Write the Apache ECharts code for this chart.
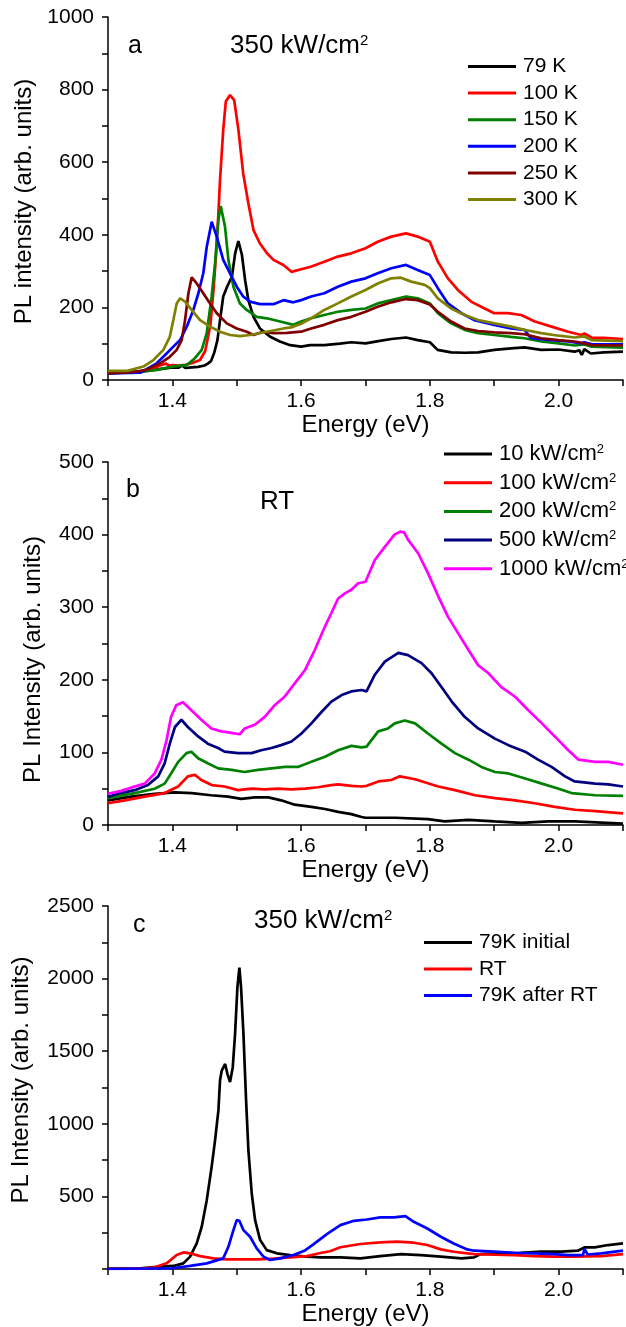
<!DOCTYPE html>
<html>
<head>
<meta charset="utf-8">
<script src="https://cdn.jsdelivr.net/npm/echarts@6/dist/echarts.min.js"></script>
<style>
  html, body { margin: 0; padding: 0; background: #fff; }
  #main { width: 626px; height: 1327px; }
</style>
</head>
<body>
<div id="main"></div>
<script>
// tick labels
const energyLabels = ['1.4', '1.6', '1.8', '2.0'];
const yLabelsA = [0, 200, 400, 600, 800, 1000];
const yLabelsB = [0, 100, 200, 300, 400, 500];
const yLabelsC = [500, 1000, 1500, 2000, 2500];

// panel a: 350 kW/cm2, temperature series  [energy eV, intensity]
const namesA = ['79 K', '100 K', '150 K', '200 K', '250 K', '300 K'];
const a79 = [[1.30, 20], [1.33, 22], [1.36, 25], [1.38, 30], [1.40, 35], [1.41, 34], [1.415, 40], [1.42, 33], [1.43, 35], [1.44, 36], [1.45, 40], [1.455, 45], [1.46, 52], [1.465, 75], [1.47, 110], [1.474, 165], [1.479, 230], [1.485, 257], [1.4925, 285], [1.4975, 349], [1.5025, 383], [1.508, 345], [1.513, 275], [1.518, 220], [1.526, 174], [1.536, 142], [1.552, 119], [1.567, 106], [1.583, 96], [1.60, 92], [1.614, 96], [1.636, 96], [1.66, 100], [1.678, 104], [1.70, 101], [1.72, 107], [1.74, 113], [1.763, 117], [1.781, 110], [1.80, 104], [1.812, 83], [1.833, 76], [1.854, 75], [1.875, 76], [1.90, 83], [1.926, 87], [1.947, 90], [1.973, 83], [2.00, 84], [2.025, 78], [2.032, 82], [2.036, 69], [2.04, 85], [2.05, 73], [2.07, 76], [2.10, 78]];
const a100 = [[1.30, 20], [1.33, 22], [1.35, 24], [1.37, 30], [1.38, 40], [1.39, 45], [1.395, 40], [1.40, 41], [1.41, 40], [1.42, 42], [1.43, 46], [1.443, 55], [1.451, 80], [1.459, 150], [1.464, 250], [1.468, 350], [1.4715, 459], [1.474, 551], [1.479, 689], [1.483, 767], [1.4896, 785], [1.496, 771], [1.5026, 689], [1.510, 569], [1.518, 487], [1.526, 413], [1.536, 376], [1.547, 349], [1.557, 331], [1.5725, 317], [1.585, 298], [1.60, 305], [1.615, 312], [1.636, 326], [1.657, 340], [1.678, 349], [1.70, 363], [1.719, 381], [1.74, 395], [1.763, 404], [1.781, 395], [1.80, 381], [1.8124, 326], [1.828, 280], [1.8435, 248], [1.864, 216], [1.885, 197], [1.90, 184], [1.921, 184], [1.942, 179], [1.963, 161], [1.989, 147], [2.015, 133], [2.035, 124], [2.04, 128], [2.051, 117], [2.07, 116], [2.10, 113]];
const a150 = [[1.30, 18], [1.35, 22], [1.376, 28], [1.40, 37], [1.4223, 41], [1.435, 60], [1.4456, 83], [1.4534, 129], [1.461, 230], [1.4663, 321], [1.4715, 441], [1.4751, 479], [1.4818, 422], [1.487, 331], [1.4948, 257], [1.505, 211], [1.5155, 193], [1.531, 174], [1.5466, 170], [1.5674, 161], [1.588, 152], [1.60, 161], [1.6155, 170], [1.636, 179], [1.657, 188], [1.678, 193], [1.70, 197], [1.719, 211], [1.74, 220], [1.763, 230], [1.781, 225], [1.80, 211], [1.8124, 184], [1.833, 156], [1.854, 138], [1.875, 129], [1.90, 124], [1.926, 119], [1.947, 115], [1.973, 106], [2.00, 101], [2.025, 95], [2.04, 98], [2.051, 92], [2.10, 89]];
const a200 = [[1.30, 18], [1.35, 20], [1.3756, 46], [1.391, 73], [1.4015, 92], [1.412, 110], [1.4223, 147], [1.4326, 193], [1.4404, 239], [1.448, 294], [1.4534, 367], [1.4611, 436], [1.4689, 395], [1.479, 331], [1.4896, 294], [1.50, 257], [1.510, 230], [1.5207, 216], [1.536, 209], [1.557, 209], [1.5725, 220], [1.588, 214], [1.60, 220], [1.6155, 230], [1.636, 239], [1.657, 257], [1.678, 271], [1.70, 280], [1.719, 294], [1.74, 308], [1.763, 317], [1.781, 303], [1.80, 289], [1.8124, 253], [1.828, 211], [1.849, 184], [1.869, 165], [1.90, 152], [1.926, 142], [1.947, 138], [1.957, 115], [1.989, 110], [2.015, 106], [2.035, 101], [2.04, 104], [2.051, 99], [2.10, 98]];
const a250 = [[1.30, 18], [1.34, 22], [1.36, 28], [1.381, 46], [1.396, 64], [1.4067, 83], [1.4145, 110], [1.4197, 165], [1.4249, 239], [1.43, 283], [1.4378, 266], [1.448, 239], [1.4585, 211], [1.469, 184], [1.4845, 156], [1.50, 142], [1.5155, 133], [1.526, 124], [1.541, 133], [1.557, 129], [1.578, 130], [1.60, 133], [1.6155, 142], [1.636, 152], [1.657, 165], [1.678, 174], [1.70, 188], [1.719, 202], [1.74, 214], [1.763, 223], [1.781, 220], [1.80, 208], [1.8124, 188], [1.833, 161], [1.854, 142], [1.875, 135], [1.90, 131], [1.926, 129], [1.947, 126], [1.973, 115], [2.00, 110], [2.025, 106], [2.04, 101], [2.051, 96], [2.10, 95]];
const a300 = [[1.30, 25], [1.33, 25], [1.355, 37], [1.3705, 55], [1.386, 83], [1.396, 119], [1.4015, 165], [1.4067, 211], [1.412, 225], [1.4197, 216], [1.43, 193], [1.443, 165], [1.4585, 147], [1.474, 133], [1.4896, 124], [1.505, 121], [1.5207, 124], [1.5466, 133], [1.5725, 142], [1.5845, 145], [1.60, 155], [1.6155, 170], [1.636, 193], [1.657, 211], [1.678, 230], [1.70, 248], [1.719, 266], [1.74, 280], [1.755, 282], [1.771, 271], [1.792, 262], [1.80, 253], [1.8124, 225], [1.833, 197], [1.854, 179], [1.875, 165], [1.90, 156], [1.926, 147], [1.947, 138], [1.973, 129], [2.00, 122], [2.025, 117], [2.04, 120], [2.051, 110], [2.10, 107]];

// panel b: room temperature, excitation density series
const namesB = ['10 kW/cm²', '100 kW/cm²', '200 kW/cm²', '500 kW/cm²', '1000 kW/cm²'];
const b10 = [[1.30, 34], [1.336, 39], [1.3725, 43], [1.4036, 45], [1.43, 44], [1.46, 41], [1.4865, 39], [1.507, 36], [1.528, 38], [1.549, 38], [1.569, 34], [1.59, 28], [1.616, 25], [1.637, 22], [1.6575, 18], [1.678, 15], [1.694, 11], [1.70, 10], [1.746, 10], [1.797, 8], [1.823, 5], [1.86, 7], [1.90, 5], [1.9425, 3], [1.984, 5], [2.025, 5], [2.10, 2]];
const b100 = [[1.30, 30], [1.326, 34], [1.357, 39], [1.388, 44], [1.409, 53], [1.424, 67], [1.435, 69], [1.445, 62], [1.461, 55], [1.481, 53], [1.502, 48], [1.523, 50], [1.544, 49], [1.564, 50], [1.585, 49], [1.606, 50], [1.626, 52], [1.647, 55], [1.6575, 56], [1.678, 54], [1.694, 53], [1.702, 54], [1.72, 60], [1.74, 62], [1.7534, 67], [1.777, 63], [1.813, 53], [1.839, 48], [1.87, 41], [1.901, 37], [1.932, 34], [1.963, 30], [1.994, 25], [2.025, 21], [2.057, 19], [2.10, 16]];
const b200 = [[1.30, 37], [1.3415, 44], [1.3725, 50], [1.388, 57], [1.398, 71], [1.409, 87], [1.422, 99], [1.4295, 101], [1.44, 92], [1.455, 85], [1.471, 78], [1.492, 76], [1.512, 73], [1.533, 76], [1.554, 78], [1.575, 80], [1.595, 80], [1.616, 87], [1.637, 94], [1.6575, 103], [1.678, 109], [1.694, 107], [1.7016, 108], [1.7197, 129], [1.735, 133], [1.7456, 140], [1.761, 144], [1.777, 140], [1.797, 126], [1.818, 112], [1.839, 99], [1.86, 90], [1.88, 80], [1.901, 73], [1.922, 71], [1.948, 64], [1.974, 57], [2.00, 50], [2.02, 44], [2.057, 41], [2.10, 40]];
const b500 = [[1.30, 39], [1.32, 44], [1.3415, 48], [1.362, 55], [1.378, 67], [1.388, 85], [1.396, 112], [1.404, 135], [1.414, 145], [1.424, 135], [1.44, 122], [1.455, 112], [1.471, 106], [1.481, 101], [1.502, 99], [1.523, 99], [1.538, 103], [1.554, 106], [1.569, 110], [1.585, 115], [1.6005, 126], [1.616, 140], [1.632, 156], [1.647, 170], [1.663, 179], [1.678, 184], [1.694, 186], [1.7016, 184], [1.7145, 207], [1.73, 225], [1.751, 237], [1.766, 234], [1.787, 223], [1.8026, 209], [1.818, 190], [1.834, 170], [1.854, 149], [1.875, 133], [1.901, 119], [1.922, 110], [1.948, 101], [1.968, 90], [1.989, 80], [2.01, 67], [2.025, 60], [2.057, 57], [2.077, 56], [2.10, 53]];
const b1000 = [[1.30, 43], [1.3207, 47], [1.3415, 53], [1.357, 57], [1.3725, 71], [1.383, 90], [1.391, 117], [1.398, 149], [1.406, 165], [1.4166, 169], [1.4295, 158], [1.445, 145], [1.4606, 133], [1.476, 129], [1.4917, 127], [1.5047, 125], [1.5124, 133], [1.528, 138], [1.5435, 149], [1.559, 165], [1.5746, 177], [1.59, 195], [1.6057, 213], [1.6212, 241], [1.6368, 273], [1.647, 292], [1.6575, 312], [1.668, 319], [1.678, 324], [1.6886, 333], [1.70, 335], [1.7145, 365], [1.73, 383], [1.745, 400], [1.7536, 404], [1.76, 403], [1.766, 393], [1.782, 374], [1.797, 347], [1.813, 315], [1.828, 287], [1.844, 264], [1.86, 241], [1.875, 220], [1.891, 209], [1.911, 190], [1.932, 177], [1.953, 158], [1.974, 140], [1.994, 122], [2.015, 103], [2.031, 90], [2.057, 87], [2.077, 87], [2.10, 83]];

// panel c: 350 kW/cm2, 79K before / RT / 79K after
const namesC = ['79K initial', 'RT', '79K after RT'];
const c79i = [[1.30, 3], [1.35, 5], [1.381, 16], [1.4015, 21], [1.417, 39], [1.4275, 85], [1.4378, 176], [1.4456, 291], [1.4534, 474], [1.461, 703], [1.4663, 886], [1.4715, 1092], [1.474, 1298], [1.4767, 1367], [1.482, 1412], [1.4855, 1344], [1.4896, 1287], [1.4938, 1390], [1.4974, 1619], [1.501, 1939], [1.5041, 2076], [1.5067, 1939], [1.5104, 1619], [1.5145, 1161], [1.5181, 817], [1.5233, 520], [1.5285, 337], [1.5363, 199], [1.5466, 130], [1.5622, 108], [1.583, 96], [1.609, 85], [1.63, 80], [1.661, 80], [1.692, 73], [1.723, 89], [1.755, 103], [1.786, 96], [1.817, 85], [1.849, 73], [1.8686, 80], [1.879, 103], [1.91, 108], [1.941, 112], [1.9725, 119], [2.004, 119], [2.03, 126], [2.04, 149], [2.056, 149], [2.077, 165], [2.10, 176]];
const cRT = [[1.30, 0], [1.35, 2], [1.3705, 9], [1.391, 39], [1.4067, 96], [1.417, 114], [1.4275, 108], [1.443, 89], [1.4637, 73], [1.4845, 66], [1.505, 66], [1.531, 66], [1.557, 71], [1.583, 80], [1.609, 89], [1.63, 110], [1.645, 122], [1.661, 150], [1.692, 172], [1.723, 183], [1.749, 188], [1.775, 181], [1.796, 165], [1.817, 135], [1.837, 119], [1.869, 103], [1.90, 98], [1.931, 96], [1.962, 89], [1.993, 85], [2.024, 85], [2.066, 89], [2.10, 103]];
const c79after = [[1.30, 0], [1.40, 5], [1.4275, 21], [1.4534, 39], [1.479, 73], [1.487, 153], [1.4948, 268], [1.50, 337], [1.504, 332], [1.5104, 268], [1.5207, 222], [1.531, 142], [1.5415, 85], [1.5518, 62], [1.5674, 73], [1.588, 96], [1.605, 125], [1.619, 170], [1.64, 240], [1.661, 302], [1.682, 332], [1.702, 341], [1.723, 355], [1.744, 355], [1.762, 364], [1.775, 325], [1.796, 279], [1.817, 222], [1.837, 176], [1.858, 135], [1.869, 126], [1.90, 119], [1.931, 112], [1.962, 108], [1.993, 103], [2.014, 96], [2.038, 96], [2.04, 140], [2.045, 100], [2.066, 108], [2.10, 126]];

const FONT = '"Liberation Sans", Arial, sans-serif';
const chart = echarts.init(document.getElementById('main'));

const grids = [
  { left: 108, right: 3, top: 17, height: 363 },
  { left: 108, right: 3, top: 462, height: 363 },
  { left: 108, right: 3, top: 906, height: 363 },
];

function xAxisFor(i) {
  return {
    type: 'value',
    gridIndex: i,
    min: 1.3,
    max: 2.1,
    interval: 0.1,
    name: 'Energy (eV)',
    nameLocation: 'middle',
    nameGap: 30,
    nameTextStyle: { fontFamily: FONT, fontSize: 24, color: '#000' },
    axisLine: { lineStyle: { color: '#000', width: 1.5 } },
    axisTick: { inside: false, length: 6, lineStyle: { color: '#000', width: 1.5 } },
    splitLine: { show: false },
    axisLabel: {
      margin: 11,
      fontFamily: FONT,
      fontSize: 21,
      color: '#000',
      formatter: (v) => {
        const s = v.toFixed(1);
        return energyLabels.includes(s) ? s : '';
      },
    },
  };
}

function yAxisFor(i, max, interval, labels, name, gap, pad) {
  return {
    type: 'value',
    gridIndex: i,
    min: 0,
    max,
    interval,
    name,
    nameLocation: 'middle',
    nameGap: gap,
    nameTextStyle: { fontFamily: FONT, fontSize: 24, color: '#000', padding: pad },
    axisLine: { show: true, lineStyle: { color: '#000', width: 1.5 } },
    axisTick: { show: true, length: 6, lineStyle: { color: '#000', width: 1.5 } },
    splitLine: { show: false },
    axisLabel: {
      margin: 14,
      fontFamily: FONT,
      fontSize: 21,
      color: '#000',
      formatter: (v) => (labels.includes(Math.round(v)) ? String(Math.round(v)) : ''),
    },
  };
}

function line(name, data, color, i) {
  return {
    name,
    type: 'line',
    xAxisIndex: i,
    yAxisIndex: i,
    data,
    symbol: 'none',
    animation: false,
    lineStyle: { color, width: 2.7 },
    itemStyle: { color },
  };
}

function legendFor(names, left, top, fontSize, lineHeight, gap) {
  return {
    data: names,
    orient: 'vertical',
    left,
    top,
    padding: 0,
    icon: 'rect',
    itemWidth: 48,
    itemHeight: 3,
    itemGap: gap,
    selectedMode: false,
    formatter: (n) => n.replace('²', '{sup|2}'),
    textStyle: {
      fontFamily: FONT,
      fontSize,
      lineHeight,
      color: '#000',
      padding: [0, 0, 0, 2],
      rich: { sup: { fontFamily: FONT, fontSize: 13, verticalAlign: 'top', lineHeight } },
    },
  };
}

function label(text, x, y, size) {
  return {
    type: 'text',
    x,
    y,
    silent: true,
    style: {
      text,
      font: size + 'px ' + FONT,
      fill: '#000',
      align: 'left',
      verticalAlign: 'middle',
      rich: { sup: { font: '15px ' + FONT, fill: '#000', verticalAlign: 'top' } },
    },
  };
}

chart.setOption({
  backgroundColor: '#fff',
  grid: grids,
  xAxis: [xAxisFor(0), xAxisFor(1), xAxisFor(2)],
  yAxis: [
    yAxisFor(0, 1000, 100, yLabelsA, 'PL intensity (arb. units)', 61, [0, 6, 0, 0]),
    yAxisFor(1, 500, 50, yLabelsB, 'PL Intensity (arb. units)', 63, [0, 32, 0, 0]),
    yAxisFor(2, 2500, 250, yLabelsC, 'PL Intensity (arb. units)', 75, [0, 0, 0, 15]),
  ],
  legend: [
    legendFor(namesA, 468, 56, 21, 21, 5.6),
    legendFor(namesB, 444, 443, 22, 22, 6.7),
    legendFor(namesC, 424, 932, 21, 21, 5.5),
  ],
  graphic: [
    label('a', 128, 46, 25),
    label('350 kW/cm{sup|2}', 230, 46, 26),
    label('b', 126, 490, 25),
    label('RT', 260, 502, 26),
    label('c', 133, 925, 25),
    label('350 kW/cm{sup|2}', 254, 921, 26),
  ],
  series: [
    line(namesA[0], a79, '#000000', 0),
    line(namesA[1], a100, '#ff0000', 0),
    line(namesA[2], a150, '#008000', 0),
    line(namesA[3], a200, '#0000ff', 0),
    line(namesA[4], a250, '#800000', 0),
    line(namesA[5], a300, '#808000', 0),
    line(namesB[0], b10, '#000000', 1),
    line(namesB[1], b100, '#ff0000', 1),
    line(namesB[2], b200, '#008000', 1),
    line(namesB[3], b500, '#000080', 1),
    line(namesB[4], b1000, '#ff00ff', 1),
    line(namesC[0], c79i, '#000000', 2),
    line(namesC[1], cRT, '#ff0000', 2),
    line(namesC[2], c79after, '#0000ff', 2),
  ],
});
</script>
</body>
</html>
